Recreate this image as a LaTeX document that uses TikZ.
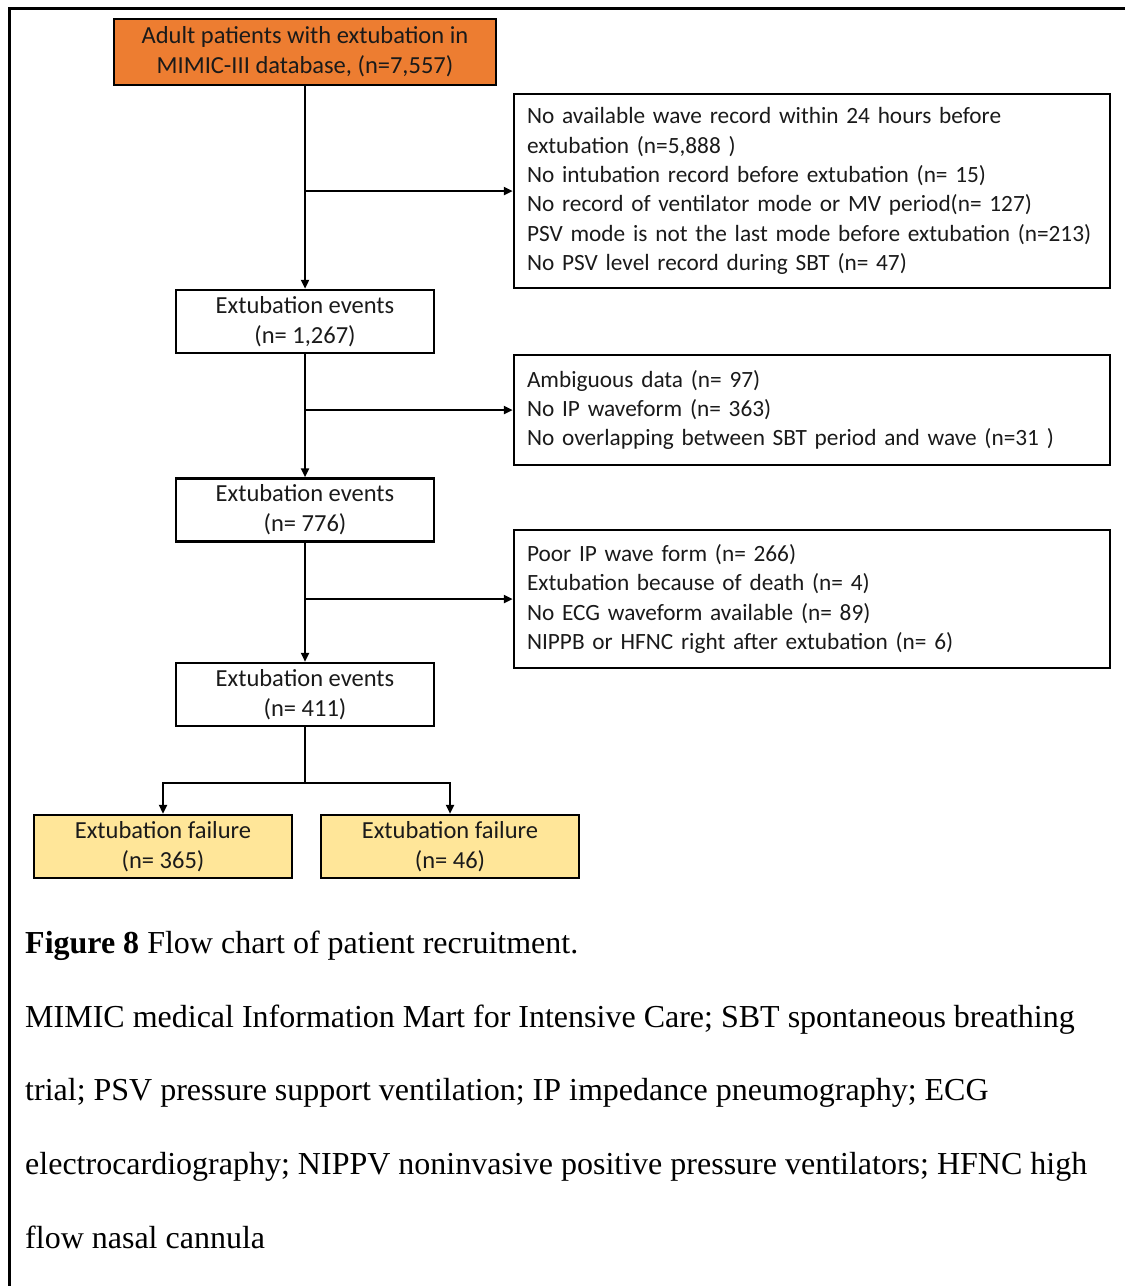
\documentclass[tikz,border=0pt]{standalone}
\usepackage{fontspec}
\setmainfont{Liberation Serif}
\newfontfamily\boxfont{Carlito}
\usetikzlibrary{arrows.meta}
\definecolor{orangeF}{HTML}{ED7D31}
\definecolor{yellowF}{HTML}{FFE699}
\definecolor{txt}{HTML}{1A1A1A}
\tikzset{
  box/.style={draw=black, line width=2.5pt, align=center, inner sep=0pt, text=txt,
    font=\boxfont\fontsize{24.5}{30}\selectfont},
  exbox/.style={box, align=left, minimum width=596pt, text width=570pt,
    font=\boxfont\fontsize{23.3}{29.3}\selectfont},
  evbox/.style={box, minimum width=258pt, minimum height=63pt},
  arr/.style={line width=2.5pt, -{Triangle[length=9pt,width=8pt]}},
  ln/.style={line width=2.5pt},
  captext/.style={anchor=base west, inner sep=0pt, font=\fontsize{32}{36}\selectfont},
}
\begin{document}
\begin{tikzpicture}[x=1pt,y=-1pt]
\useasboundingbox (0,0) rectangle (1125,1286);
\draw[line width=3pt] (9.5,1286) -- (9.5,8.5) -- (1125,8.5);
\node[box, fill=orangeF, minimum width=382pt, minimum height=66pt] (top) at (305,52)
  {Adult patients with extubation in\\MIMIC-III database, (n=7,557)};
\node[exbox, minimum height=194pt] (ex1) at (812,191)
  {No available wave record within 24 hours before\\extubation (n=5,888 )\\No intubation record before extubation (n= 15)\\No record of ventilator mode or MV period(n= 127)\\PSV mode is not the last mode before extubation (n=213)\\No PSV level record during SBT (n= 47)};
\node[evbox] (ev1) at (305,321.5) {Extubation events\\(n= 1,267)};
\node[exbox, minimum height=110pt] (ex2) at (812,410)
  {Ambiguous data (n= 97)\\No IP waveform (n= 363)\\No overlapping between SBT period and wave (n=31 )};
\node[evbox] (ev2) at (305,510) {Extubation events\\(n= 776)};
\node[exbox, minimum height=138pt] (ex3) at (812,599)
  {Poor IP wave form (n= 266)\\Extubation because of death (n= 4)\\No ECG waveform available (n= 89)\\NIPPB or HFNC right after extubation (n= 6)};
\node[evbox] (ev3) at (305,694.5) {Extubation events\\(n= 411)};
\node[evbox, fill=yellowF] (f1) at (163,846.5) {Extubation failure\\(n= 365)};
\node[evbox, fill=yellowF] (f2) at (450,846.5) {Extubation failure\\(n= 46)};
\draw[arr] (top.south) -- (ev1.north);
\draw[arr] (top.south |- ex1.west) -- (ex1.west);
\draw[arr] (ev1.south) -- (ev2.north);
\draw[arr] (ev1.south |- ex2.west) -- (ex2.west);
\draw[arr] (ev2.south) -- (ev3.north);
\draw[arr] (ev2.south |- ex3.west) -- (ex3.west);
\coordinate (split) at (305,783);
\draw[ln] (ev3.south) -- (split);
\draw[arr] (split) -| (f1.north);
\draw[arr] (split) -| (f2.north);
\node[captext] (cap1) at (25,953) {\textbf{Figure 8} Flow chart of patient recruitment.};
\node[captext] (cap2) at (25,1027) {MIMIC medical Information Mart for Intensive Care; SBT spontaneous breathing};
\node[captext] (cap3) at (25,1100.5) {trial; PSV pressure support ventilation; IP impedance pneumography; ECG};
\node[captext] (cap4) at (25,1174) {electrocardiography; NIPPV noninvasive positive pressure ventilators; HFNC high};
\node[captext] (cap5) at (25,1248) {flow nasal cannula};
\end{tikzpicture}
\end{document}
